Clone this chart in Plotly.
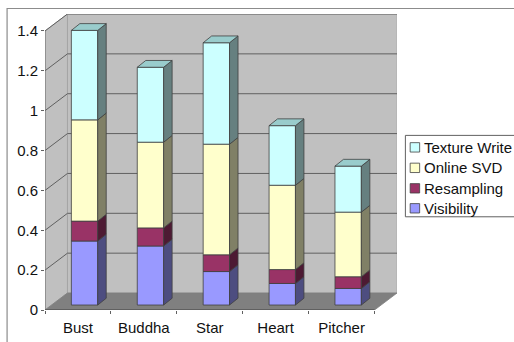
import plotly.graph_objects as go

categories = ["Bust", "Buddha", "Star", "Heart", "Pitcher"]
visibility = [0.321, 0.296, 0.168, 0.108, 0.083]
resampling = [0.100, 0.091, 0.084, 0.070, 0.059]
online_svd = [0.508, 0.430, 0.555, 0.423, 0.324]
texture_write = [0.449, 0.376, 0.509, 0.299, 0.231]
y_ticks = [0, 0.2, 0.4, 0.6, 0.8, 1, 1.2, 1.4]
y_tick_labels = ["0", "0.2", "0.4", "0.6", "0.8", "1", "1.2", "1.4"]

series = [
    ("Visibility", visibility, "#9999FF", "#4D4D80"),
    ("Resampling", resampling, "#993366", "#4D1A33"),
    ("Online SVD", online_svd, "#FFFFCC", "#808066"),
    ("Texture Write", texture_write, "#CCFFFF", "#668080"),
]

W, H = 514, 342
LEFT, RIGHT, TOP, BOTTOM = 44.5, 397.3, 14, 310.3
FONT = "Liberation Sans"
INK = "#111111"

# Oblique projection, in axis units: depth of the box and of each column.
DEPTH_X, DEPTH_Y = 0.341, 0.0852
BAR_X, BAR_Y = 0.10, 0.025
SIDE_X, SIDE_Y = 0.129, 0.034
BAR_W = 0.40
X_MAX = 5 + DEPTH_X
Y_MAX = 1.4 + DEPTH_Y


def polygon(points, color, line="#404040", width=0.8):
    path = "M" + "L".join(f"{x},{y}" for x, y in points) + "Z"
    return dict(type="path", path=path, fillcolor=color, layer="below",
                line=dict(color=line, width=width), xref="x", yref="y")


def segment(x0, y0, x1, y1, color="#606060", width=1):
    return dict(type="line", x0=x0, y0=y0, x1=x1, y1=y1, layer="below",
                line=dict(color=color, width=width), xref="x", yref="y")


def px_x(x):
    return (x - LEFT) / (RIGHT - LEFT)


def px_y(y):
    return (BOTTOM - y) / (BOTTOM - TOP)


shapes = [
    # Chart frame; its right and bottom edges run off the page
    dict(type="rect", xref="paper", yref="paper", layer="below",
         x0=px_x(6.5), x1=px_x(530), y0=px_y(350), y1=px_y(8.5),
         fillcolor="white", line=dict(color="#8c8c8c", width=1.2)),
    # Back wall, left wall and floor
    polygon([(DEPTH_X, DEPTH_Y), (X_MAX, DEPTH_Y), (X_MAX, Y_MAX), (DEPTH_X, Y_MAX)],
            "#C0C0C0", "#a8a8a8"),
    polygon([(0, 0), (DEPTH_X, DEPTH_Y), (DEPTH_X, Y_MAX), (0, 1.4)], "#C0C0C0", "#a0a0a0"),
    polygon([(0, 0), (5, 0), (X_MAX, DEPTH_Y), (DEPTH_X, DEPTH_Y)], "#808080", "#808080"),
]
for v in y_ticks[1:]:
    shapes.append(segment(0, v, DEPTH_X, v + DEPTH_Y))
    shapes.append(segment(DEPTH_X, v + DEPTH_Y, X_MAX, v + DEPTH_Y))
shapes.append(segment(0, 0, 0, 1.4, "#707070"))
shapes.append(segment(0, 0, 5, 0, "#404040"))

fig = go.Figure()
centers = [i + 0.5 + BAR_X for i in range(len(categories))]
running = [BAR_Y] * len(categories)

for name, values, face, side in series:
    fig.add_bar(x=centers, y=values, base=list(running), width=BAR_W, name=name,
                marker=dict(color=face, line=dict(color="#404040", width=0.8)),
                showlegend=False, hoverinfo="skip")
    xs, ys = [], []
    for c, b, v in zip(centers, running, values):
        r = c + BAR_W / 2
        xs += [r, r + SIDE_X, r + SIDE_X, r, r, None]
        ys += [b, b + SIDE_Y, b + v + SIDE_Y, b + v, b, None]
    fig.add_scatter(x=xs, y=ys, mode="lines", fill="toself", fillcolor=side,
                    line=dict(color="#404040", width=0.8), showlegend=False,
                    hoverinfo="skip")
    running = [b + v for b, v in zip(running, values)]

# Column caps
xs, ys = [], []
for c, t in zip(centers, running):
    l, r = c - BAR_W / 2, c + BAR_W / 2
    xs += [l, r, r + SIDE_X, l + SIDE_X, l, None]
    ys += [t, t, t + SIDE_Y, t + SIDE_Y, t, None]
fig.add_scatter(x=xs, y=ys, mode="lines", fill="toself", fillcolor="#99CCCC",
                line=dict(color="#404040", width=0.8), showlegend=False, hoverinfo="skip")

# Legend box, swatches and labels
LEG_L, LEG_T, LEG_B = 405.7, 135.5, 217
shapes.append(dict(type="rect", xref="paper", yref="paper", layer="above",
                   x0=px_x(LEG_L), x1=px_x(530), y0=px_y(LEG_B), y1=px_y(LEG_T),
                   fillcolor="white", line=dict(color="#606060", width=1)))
annotations = []
row_y = [147.5, 168, 188.5, 208.5]
for (name, _, face, _side), y in zip(reversed(series), row_y):
    shapes.append(dict(type="rect", xref="paper", yref="paper", layer="above",
                       x0=px_x(410.5), x1=px_x(420), y0=px_y(y + 4.7), y1=px_y(y - 4.7),
                       fillcolor=face, line=dict(color="#404040", width=0.8)))
    annotations.append(dict(text=name, xref="paper", yref="paper", x=px_x(422), y=px_y(y),
                            xanchor="left", yanchor="middle", showarrow=False,
                            font=dict(family=FONT, size=15, color=INK)))

fig.update_layout(
    width=W, height=H, barmode="overlay", showlegend=False,
    paper_bgcolor="white", plot_bgcolor="rgba(0,0,0,0)",
    margin=dict(l=LEFT, r=W - RIGHT, t=TOP, b=H - BOTTOM, pad=0, autoexpand=False),
    shapes=shapes, annotations=annotations,
    font=dict(family=FONT, size=15, color=INK),
    xaxis=dict(range=[0, X_MAX], showgrid=False, zeroline=False, showline=False,
               automargin=False,
               tickmode="array", tickvals=[i + 0.5 for i in range(len(categories))],
               ticktext=categories, ticks="outside", ticklen=4,
               tickcolor="rgba(0,0,0,0)",
               minor=dict(tickmode="array", tickvals=list(range(len(categories) + 1)),
                          ticks="outside", ticklen=3, tickwidth=1, tickcolor="#606060")),
    yaxis=dict(range=[0, Y_MAX], showgrid=False, zeroline=False, showline=False,
               automargin=False,
               tickmode="array", tickvals=y_ticks, ticktext=y_tick_labels,
               ticks="outside", ticklen=3, tickwidth=1, tickcolor="#606060"),
)

fig.write_html("out.html", config=dict(displayModeBar=False))
